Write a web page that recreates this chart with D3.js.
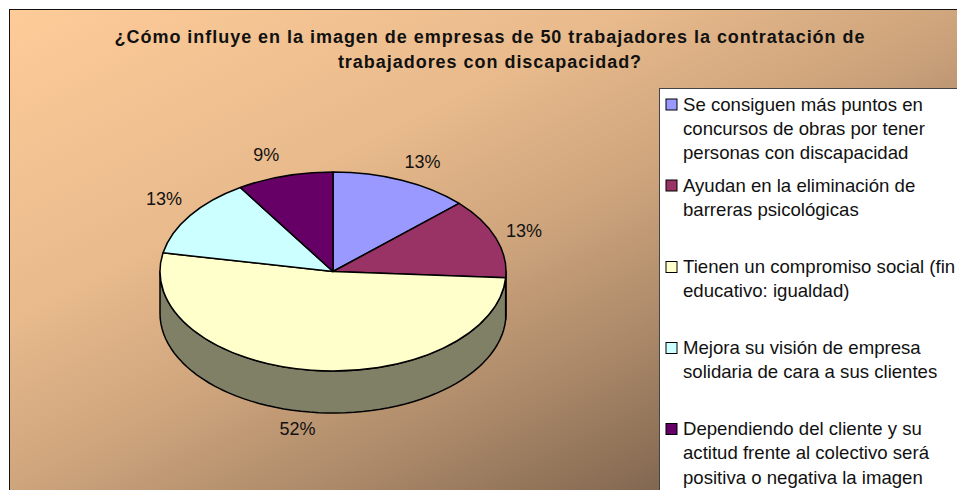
<!DOCTYPE html>
<html>
<head>
<meta charset="utf-8">
<script src="https://cdn.jsdelivr.net/npm/d3@7"></script>
<style>
    html, body { margin: 0; padding: 0; background: #fff; overflow: hidden; }
    text { font-family: "Liberation Sans", Arial, sans-serif; fill: #111; }
</style>
</head>
<body>
<div id="chart"></div>
<script>
const titleLines = [
    "¿Cómo influye en la imagen de empresas de 50 trabajadores la contratación de",
    "trabajadores con discapacidad?"
];
const sliceValues = [13, 13, 52, 13, 9];
const sliceColors = ["#9999ff", "#993366", "#ffffcc", "#ccffff", "#660066"];
const legendLines = [
    ["Se consiguen más puntos en", "concursos de obras por tener", "personas con discapacidad"],
    ["Ayudan en la eliminación de", "barreras psicológicas"],
    ["Tienen un compromiso social (fin", "educativo: igualdad)"],
    ["Mejora su visión de empresa", "solidaria de cara a sus clientes"],
    ["Dependiendo del cliente y su", "actitud frente al colectivo será", "positiva o negativa la imagen"]
];

const width = 957, height = 490;
const cx = 333, cy = 271.5, rx = 173, ry = 99.5, depth = 42;
// small shifts so the labels land where the original put them
const labelNudge = [[9, 0], [0, 0], [-10, -3], [-1, -5], [-10, -2]];
const legendBase = [110.5, 191.5, 273, 354, 435];
// background ramp is not linear in the original: [offset, mix towards dark]
const bgStops = [[0, 0], [0.325, 0.18], [0.49, 0.38], [0.66, 0.67], [0.815, 0.98], [1, 1.3]];

let svg = d3.select("#chart")
    .append("svg")
    .attr("width", width)
    .attr("height", height)
    .style("display", "block");

let bgMix = d3.interpolateRgb("#ffcc99", "#806650");
svg.append("defs")
    .append("linearGradient")
    .attr("id", "bg")
    .attr("gradientUnits", "userSpaceOnUse")
    .attr("x1", 0).attr("y1", 0)
    .attr("x2", 400).attr("y2", 800)
    .selectAll("stop")
    .data(bgStops)
    .enter()
    .append("stop")
    .attr("offset", d => d[0])
    .attr("stop-color", d => bgMix(d[1]));

svg.append("rect")
    .attr("x", 9.5).attr("y", 9.5)
    .attr("width", 1000).attr("height", 520)
    .attr("fill", "url(#bg)")
    .attr("stroke", "#111")
    .attr("stroke-width", 1);

// title
svg.selectAll("text.title")
    .data(titleLines)
    .enter()
    .append("text")
    .attr("class", "title")
    .attr("x", 490)
    .attr("y", (d, i) => 43 + i * 25)
    .attr("text-anchor", "middle")
    .attr("font-weight", "bold")
    .attr("font-size", 18)
    .attr("letter-spacing", 0.97)
    .text(d => d);

let pie = d3.pie().sort(null).value(d => d);
let pie_data = pie(sliceValues);

// side wall, only the part of each slice facing the viewer
function wallPath(d) {
    let a0 = Math.max(d.startAngle, Math.PI / 2);
    let a1 = Math.min(d.endAngle, Math.PI * 1.5);
    if (a1 <= a0) return null;
    let pts = d3.range(0, 61).map(i => a0 + (a1 - a0) * i / 60);
    let top = pts.map(a => [cx + rx * Math.sin(a), cy - ry * Math.cos(a)]);
    let bottom = pts.slice().reverse().map(a => [cx + rx * Math.sin(a), cy - ry * Math.cos(a) + depth]);
    return d3.line()(top.concat(bottom)) + "Z";
}

svg.selectAll("path.wall")
    .data(pie_data)
    .enter()
    .append("path")
    .attr("class", "wall")
    .attr("d", wallPath)
    .attr("fill", (d, i) => d3.interpolateRgb(sliceColors[i], "#000")(0.5))
    .attr("stroke", "#000")
    .attr("stroke-width", 1.5)
    .attr("stroke-linejoin", "round");

let arc = d3.arc().innerRadius(0).outerRadius(rx);

svg.append("g")
    .attr("transform", "translate(" + cx + "," + cy + ") scale(1," + (ry / rx) + ")")
    .selectAll("path")
    .data(pie_data)
    .enter()
    .append("path")
    .attr("d", arc)
    .attr("fill", (d, i) => sliceColors[i])
    .attr("stroke", "#000")
    .attr("stroke-width", 1.5)
    .attr("stroke-linejoin", "round")
    .attr("vector-effect", "non-scaling-stroke");

// percentage labels
svg.selectAll("text.pct")
    .data(pie_data)
    .enter()
    .append("text")
    .attr("class", "pct")
    .attr("text-anchor", "middle")
    .attr("font-size", 18)
    .attr("x", (d, i) => {
        let a = (d.startAngle + d.endAngle) / 2;
        return cx + (rx + 30) * Math.sin(a) + labelNudge[i][0];
    })
    .attr("y", (d, i) => {
        let a = (d.startAngle + d.endAngle) / 2;
        let drop = Math.cos(a) < 0 ? depth : 0;
        return cy - (ry + 20) * Math.cos(a) + drop + labelNudge[i][1] + 6;
    })
    .text(d => d.value + "%");

// legend box, runs off the window on the right and bottom like the original
svg.append("rect")
    .attr("x", 659.5).attr("y", 88.5)
    .attr("width", 340).attr("height", 440)
    .attr("fill", "#fff")
    .attr("stroke", "#444")
    .attr("stroke-width", 1);

let items = svg.selectAll("g.item")
    .data(legendLines)
    .enter()
    .append("g")
    .attr("class", "item");

items.append("rect")
    .attr("x", 666)
    .attr("y", (d, i) => legendBase[i] - 11.5)
    .attr("width", 11)
    .attr("height", 11)
    .attr("fill", (d, i) => sliceColors[i])
    .attr("stroke", "#000")
    .attr("stroke-width", 1);

items.each(function (lines, i) {
    d3.select(this).selectAll("text")
        .data(lines)
        .enter()
        .append("text")
        .attr("x", 683)
        .attr("y", (d, j) => legendBase[i] + j * 24.4)
        .attr("font-size", 18.6)
        .text(d => d);
});
</script>
</body>
</html>
